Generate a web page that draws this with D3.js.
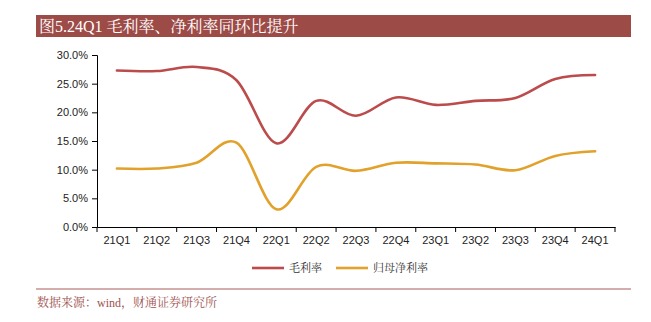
<!DOCTYPE html>
<html><head><meta charset="utf-8">
<script src="https://cdn.jsdelivr.net/npm/d3@7"></script>
<style>
html,body{margin:0;padding:0;background:#fff;}
svg{display:block;}
</style></head>
<body>
<svg id="c" width="651" height="322"></svg>
<script>
const categories = ["21Q1","21Q2","21Q3","21Q4","22Q1","22Q2","22Q3","22Q4","23Q1","23Q2","23Q3","23Q4","24Q1"];
const grossMargin = [27.3,27.2,27.9,25.6,14.6,22.0,19.4,22.6,21.3,22.0,22.5,25.8,26.5];
const netMargin = [10.2,10.2,11.2,14.7,3.1,10.5,9.8,11.2,11.1,10.9,9.9,12.4,13.2];
const yTicks = [0,5,10,15,20,25,30];
const seriesNames = ["毛利率","归母净利率"];
const title = "图5.24Q1 毛利率、净利率同环比提升";
const source = "数据来源：wind，财通证券研究所";

const svg = d3.select("#c");
const cjk = "'Liberation Serif','Noto Serif CJK SC','Noto Sans CJK SC',serif";

// title bar
svg.append("rect").attr("x",36).attr("y",15).attr("width",595).attr("height",22).attr("fill","#9C4B47");
svg.append("text").attr("x",39).attr("y",32).attr("fill","#fff").attr("font-family",cjk)
  .attr("font-size",16).text(title);

const x = d3.scaleBand().domain(categories).range([97,615]);
const y = d3.scaleLinear().domain([0,30]).range([227,55]);

const gx = svg.append("g").attr("transform","translate(0,227)")
  .call(d3.axisBottom(x).tickSize(0).tickPadding(9));
gx.select(".domain").attr("stroke","#000");
gx.selectAll("text").attr("font-family","'Liberation Sans',Arial,sans-serif").attr("font-size",11).attr("fill","#222");
// boundary ticks
const bounds = categories.map(c=>x(c)).concat([x.range()[1]]);
gx.selectAll("line.bt").data(bounds).enter().append("line").attr("class","bt")
  .attr("x1",d=>d).attr("x2",d=>d).attr("y1",0).attr("y2",5).attr("stroke","#000");

const gy = svg.append("g").attr("transform","translate(97,0)")
  .call(d3.axisLeft(y).tickValues(yTicks).tickFormat(d=>d.toFixed(1)+"%").tickSize(5).tickPadding(4));
gy.select(".domain").attr("stroke","#000");
gy.selectAll("line").attr("stroke","#000");
gy.selectAll("text").attr("font-family","'Liberation Sans',Arial,sans-serif").attr("font-size",11).attr("fill","#222");

const line = d3.line().x((d,i)=>x(categories[i])+x.bandwidth()/2).y(d=>y(d)).curve(d3.curveCardinal.tension(0));
const colors = ["#BC4B4B","#E1A12A"];
[grossMargin,netMargin].forEach((s,k)=>{
  svg.append("path").datum(s).attr("d",line).attr("fill","none").attr("stroke",colors[k]).attr("stroke-width",2.6).attr("stroke-linecap","round");
});

// legend
const lx = [252,336];
seriesNames.forEach((n,k)=>{
  svg.append("line").attr("x1",lx[k]).attr("x2",lx[k]+32).attr("y1",268).attr("y2",268).attr("stroke",colors[k]).attr("stroke-width",2.6);
  svg.append("text").attr("x",lx[k]+37).attr("y",272).attr("font-family",cjk).attr("font-size",11).attr("fill","#333").text(n);
});

// footer
svg.append("line").attr("x1",36).attr("x2",631).attr("y1",289).attr("y2",289).attr("stroke","#C49391").attr("stroke-width",1.5);
svg.append("text").attr("x",37).attr("y",307).attr("font-family",cjk).attr("font-size",12).attr("fill","#A0524E").text(source);
</script>
</body></html>
